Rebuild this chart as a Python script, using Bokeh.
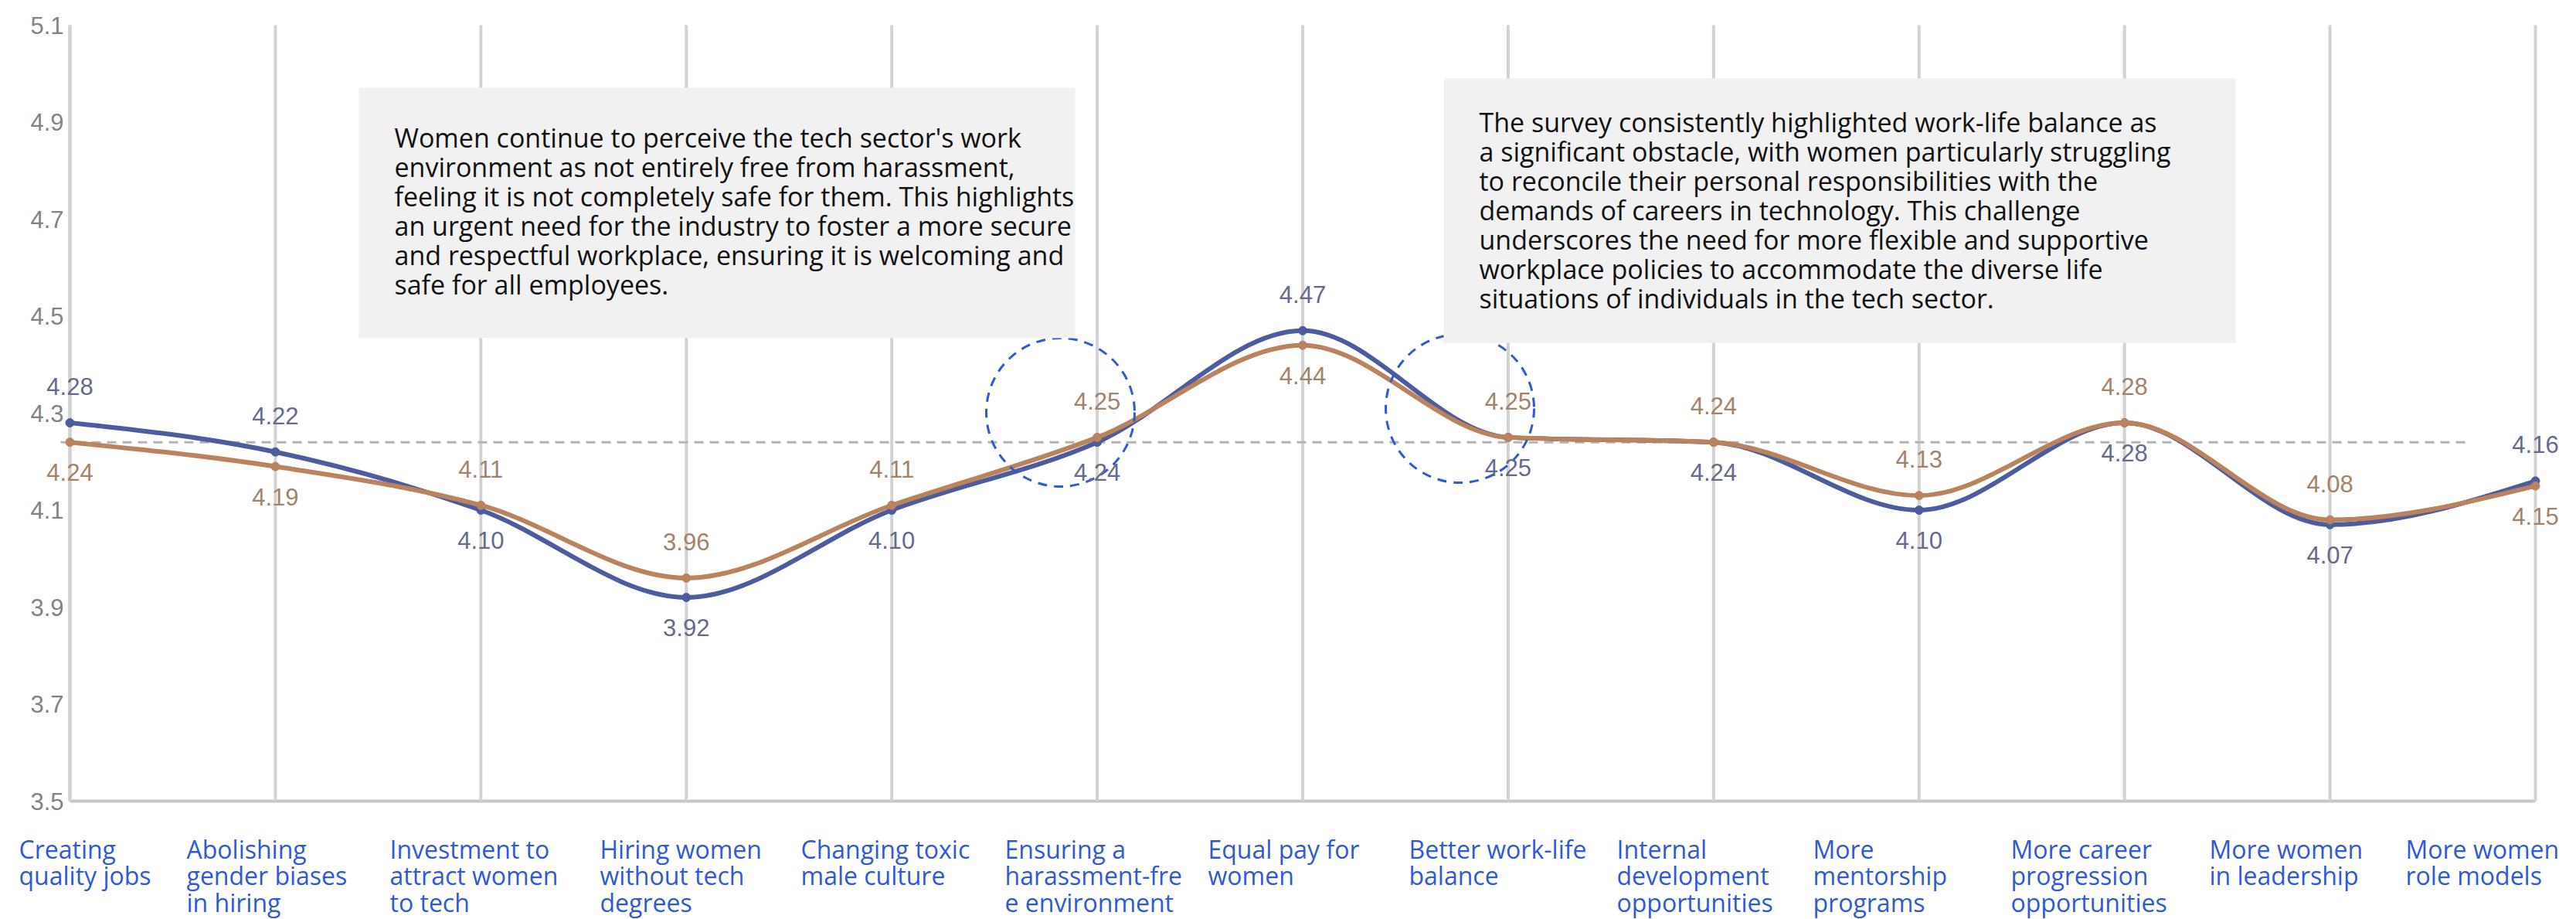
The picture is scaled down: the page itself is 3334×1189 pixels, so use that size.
from bokeh.plotting import figure
from bokeh.models import (Range1d, FixedTicker, BoxAnnotation, Label, LabelSet,
                          LinearAxis, ColumnDataSource)
from bokeh.core.properties import value
from bokeh.embed import file_html
from bokeh.resources import INLINE

# ---- data -------------------------------------------------------------
categories = [
    "Creating quality jobs",
    "Abolishing gender biases in hiring",
    "Investment to attract women to tech",
    "Hiring women without tech degrees",
    "Changing toxic male culture",
    "Ensuring a harassment-free environment",
    "Equal pay for women",
    "Better work-life balance",
    "Internal development opportunities",
    "More mentorship programs",
    "More career progression opportunities",
    "More women in leadership",
    "More women role models",
]
category_labels = [
    "Creating\nquality jobs",
    "Abolishing\ngender biases\nin hiring",
    "Investment to\nattract women\nto tech",
    "Hiring women\nwithout tech\ndegrees",
    "Changing toxic\nmale culture",
    "Ensuring a\nharassment-fre\ne environment",
    "Equal pay for\nwomen",
    "Better work-life\nbalance",
    "Internal\ndevelopment\nopportunities",
    "More\nmentorship\nprograms",
    "More career\nprogression\nopportunities",
    "More women\nin leadership",
    "More women\nrole models",
]
score_blue = [4.28, 4.22, 4.10, 3.92, 4.10, 4.24, 4.47, 4.25, 4.24, 4.10, 4.28, 4.07, 4.16]
score_brown = [4.24, 4.19, 4.11, 3.96, 4.11, 4.25, 4.44, 4.25, 4.24, 4.13, 4.28, 4.08, 4.15]
y_ticks = [3.5, 3.7, 3.9, 4.1, 4.3, 4.5, 4.7, 4.9, 5.1]
reference_level = 4.24

note_harassment = (
    "Women continue to perceive the tech sector's work\n"
    "environment as not entirely free from harassment,\n"
    "feeling it is not completely safe for them. This highlights\n"
    "an urgent need for the industry to foster a more secure\n"
    "and respectful workplace, ensuring it is welcoming and\n"
    "safe for all employees."
)
note_balance = (
    "The survey consistently highlighted work-life balance as\n"
    "a significant obstacle, with women particularly struggling\n"
    "to reconcile their personal responsibilities with the\n"
    "demands of careers in technology. This challenge\n"
    "underscores the need for more flexible and supportive\n"
    "workplace policies to accommodate the diverse life\n"
    "situations of individuals in the tech sector."
)

# ---- layout -----------------------------------------------------------
# The plot frame fills the whole canvas; the chart area (categories 0..12,
# scores 3.5..5.1) sits at these pixel edges inside it.
W, H = 3334, 1189
AREA_L, AREA_R, AREA_T, AREA_B = 90, 3281, 32, 1036
X_MAX = len(categories) - 1
Y_MIN, Y_MAX = y_ticks[0], y_ticks[-1]


def xd(px):
    """canvas pixel column -> x data value"""
    return (px - AREA_L) / (AREA_R - AREA_L) * X_MAX


def yd(py):
    """canvas pixel row -> y data value"""
    return Y_MIN + (AREA_B - py) / (AREA_B - AREA_T) * (Y_MAX - Y_MIN)


BLUE = "#4d5c9e"
BROWN = "#b9835e"
BLUE_TXT = "#646b8d"
BROWN_TXT = "#a3836a"
LINK_BLUE = "#2f59d6"
AXIS_GREY = "#c6c6c6"
NUM_FONT = "Liberation Sans"
TXT_FONT = "Open Sans"

p = figure(
    width=W, height=H,
    x_range=Range1d(xd(0), xd(W)), y_range=Range1d(yd(H), yd(0)),
    x_axis_type=None, y_axis_type=None,
    output_backend="svg", toolbar_location=None, title=None,
    min_border_left=0, min_border_right=0, min_border_top=0, min_border_bottom=0,
    background_fill_color="white", border_fill_color="white",
)
p.outline_line_color = None
p.grid.visible = False

xs = list(range(len(categories)))

# axes, pinned to the chart area
yaxis = LinearAxis(
    fixed_location=0, bounds=(Y_MIN, Y_MAX), ticker=FixedTicker(ticks=y_ticks),
    major_label_overrides={t: f"{t:.1f}" for t in y_ticks},
    major_label_text_font=NUM_FONT, major_label_text_font_size="31px",
    major_label_text_color="#838383", major_label_standoff=8,
    major_tick_out=0, major_tick_line_color=None, minor_tick_line_color=None,
    axis_line_color=AXIS_GREY, axis_line_width=4, level="underlay",
)
xaxis = LinearAxis(
    fixed_location=Y_MIN, bounds=(0, X_MAX), ticker=FixedTicker(ticks=[]),
    major_tick_line_color=None, minor_tick_line_color=None,
    axis_line_color=AXIS_GREY, axis_line_width=4, level="underlay",
)
p.add_layout(yaxis, "left")
p.add_layout(xaxis, "below")

# vertical guide line at every category
p.segment(x0=xs, y0=[Y_MIN] * len(xs), x1=xs, y1=[Y_MAX] * len(xs),
          line_color="#d2d2d2", line_width=4)

# dashed reference level
p.segment(x0=[xd(78)], y0=[reference_level], x1=[xd(3192)], y1=[reference_level],
          line_color="#b4b4b4", line_width=3, line_dash="12 8")


# smooth (monotone cubic) curves drawn as bezier segments through the points
def monotone_tangents(ys):
    n = len(ys)
    s = [ys[i + 1] - ys[i] for i in range(n - 1)]
    m = [0.0] * n
    for i in range(1, n - 1):
        s0, s1 = s[i - 1], s[i]
        if s0 * s1 <= 0:
            m[i] = 0.0
        else:
            sign = 1 if s0 > 0 else -1
            m[i] = 2 * sign * min(abs(s0), abs(s1), 0.5 * abs((s0 + s1) / 2))
    m[0] = (3 * s[0] - m[1]) / 2
    m[-1] = (3 * s[-1] - m[-2]) / 2
    return m


def curve(ys, color):
    m = monotone_tangents(ys)
    n = len(ys)
    src = ColumnDataSource(dict(
        x0=xs[:-1], y0=ys[:-1], x1=xs[1:], y1=ys[1:],
        cx0=[xs[i] + 1 / 3 for i in range(n - 1)],
        cy0=[ys[i] + m[i] / 3 for i in range(n - 1)],
        cx1=[xs[i + 1] - 1 / 3 for i in range(n - 1)],
        cy1=[ys[i + 1] - m[i + 1] / 3 for i in range(n - 1)],
    ))
    p.bezier(x0="x0", y0="y0", x1="x1", y1="y1", cx0="cx0", cy0="cy0",
             cx1="cx1", cy1="cy1", source=src, line_color=color, line_width=6)
    p.scatter(xs, ys, size=11, marker="circle", fill_color=color, line_color=color)


curve(score_blue, BLUE)
curve(score_brown, BROWN)

# value labels: the higher series above its point, the other below
blue_above = [b > r for b, r in zip(score_blue, score_brown)]
UP, DOWN = 47, -39          # LabelSet offsets: positive moves up
blue_src = ColumnDataSource(dict(
    x=xs, y=score_blue, t=[f"{v:.2f}" for v in score_blue],
    off=[UP if a else DOWN for a in blue_above]))
brown_src = ColumnDataSource(dict(
    x=xs, y=score_brown, t=[f"{v:.2f}" for v in score_brown],
    off=[DOWN if a else UP for a in blue_above]))
for src, col in ((blue_src, BLUE_TXT), (brown_src, BROWN_TXT)):
    p.add_layout(LabelSet(x="x", y="y", text="t", y_offset="off", source=src,
                          text_align="center", text_baseline="middle",
                          text_font=value(NUM_FONT), text_font_size="31px",
                          text_color=col))

# dashed highlight rings
p.scatter(x=[xd(1372), xd(1889)], y=[yd(533), yd(528)], size=192, marker="circle",
          fill_color=None, line_color=LINK_BLUE, line_width=3, line_dash="12 9")

# commentary boxes
for (l, t, r, b), (tx, ty), txt in (
    ((464, 113, 1391, 437), (510, 154), note_harassment),
    ((1868, 101, 2893, 443), (1914, 134), note_balance),
):
    p.add_layout(BoxAnnotation(left=xd(l), right=xd(r), top=yd(t), bottom=yd(b),
                               fill_color="#f1f1f1", fill_alpha=1.0, line_color=None))
    p.add_layout(Label(x=xd(tx), y=yd(ty), text=txt, text_align="left",
                       text_baseline="top", text_font=TXT_FONT, text_font_size="34px",
                       text_color="#111111", text_line_height=0.827))

# category captions under the chart
caption_left = [24, 241, 504, 776, 1036, 1300, 1563, 1823, 2092, 2346, 2602, 2859, 3113]
p.text(x=[xd(v) for v in caption_left], y=[yd(1076)] * len(caption_left),
       text=category_labels, text_align="left", text_baseline="top",
       text_font=value(TXT_FONT), text_font_size="32px", text_color=LINK_BLUE,
       text_line_height=0.803)

open("out.html", "w").write(file_html(p, INLINE))
